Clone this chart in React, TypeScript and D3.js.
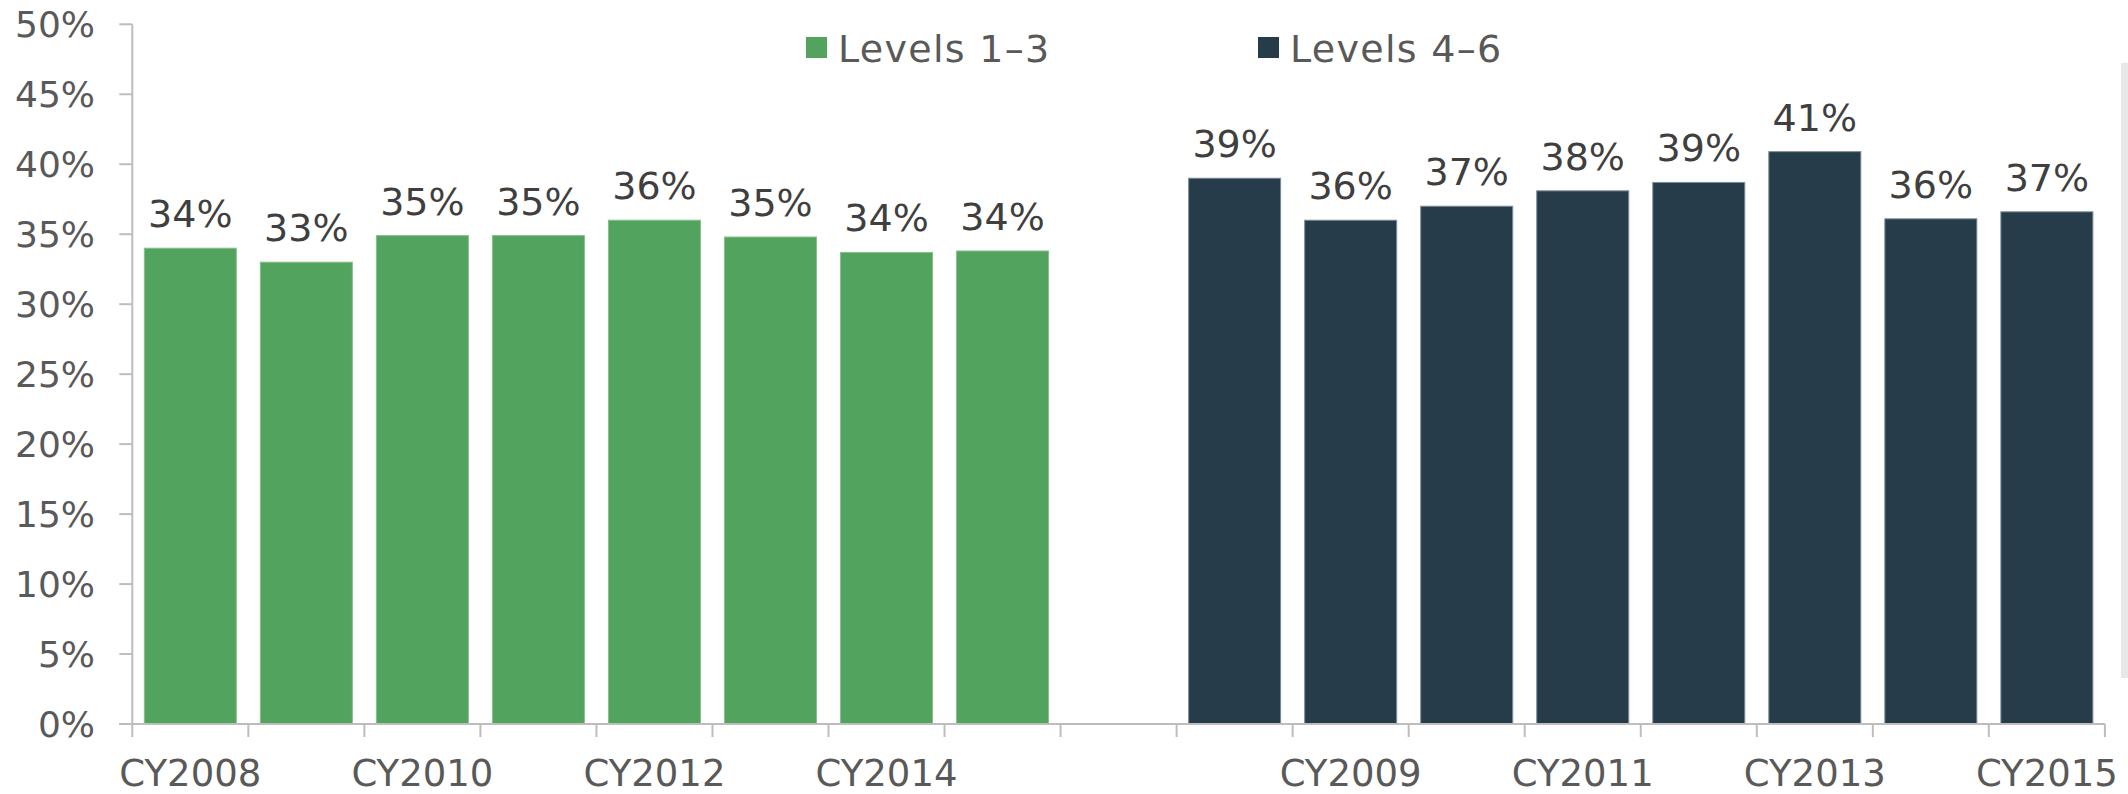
import React from "react";
import * as d3 from "d3";

const categories = ["CY2008", "CY2009", "CY2010", "CY2011", "CY2012", "CY2013", "CY2014", "CY2015"];
const levels13 = [34.0, 33.0, 34.9, 34.9, 36.0, 34.8, 33.7, 33.8];
const levels46 = [39.0, 36.0, 37.0, 38.1, 38.7, 40.9, 36.1, 36.6];
const seriesNames = ["Levels 1\u20133", "Levels 4\u20136"];
const seriesColors = ["#52a35e", "#263c4b"];
const yTicks = [0, 5, 10, 15, 20, 25, 30, 35, 40, 45, 50];

type Slot = { key: string; label: string; value: number | null; series: number };

const slots: Slot[] = [
  ...categories.map((c, i) => ({ key: "a" + c, label: c, value: levels13[i], series: 0 })),
  { key: "gap", label: "", value: null, series: -1 },
  ...categories.map((c, i) => ({ key: "b" + c, label: c, value: levels46[i], series: 1 })),
];

const W = 2128;
const H = 794;
const X0 = 132.3;
const X1 = 2104.9;
const Y0 = 724;
const Y1 = 24.3;
const FONT = "'DejaVu Sans', 'Liberation Sans', sans-serif";
const AXIS = "#bdbdbd";

export default function App() {
  const pad = 0.207;
  const x = d3
    .scaleBand<string>()
    .domain(slots.map((s) => s.key))
    .range([X0, X1])
    .paddingInner(pad)
    .paddingOuter(pad / 2);
  const y = d3.scaleLinear().domain([0, 50]).range([Y0, Y1]);
  const step = x.step();
  const boundaries = d3.range(slots.length + 1).map((i) => X0 + i * step);

  return (
    <svg
      width={W}
      height={H}
      style={{ position: "absolute", left: 0, top: 0, background: "#fff" }}
      fontFamily={FONT}
    >
      {/* right side panel strip */}
      <rect x={2121} y={63} width={7} height={615} fill="#e8e8e8" />

      {/* y axis */}
      <line x1={X0} x2={X0} y1={Y1} y2={Y0} stroke={AXIS} strokeWidth={2} />
      {yTicks.map((t) => (
        <g key={t}>
          <line x1={X0 - 13} x2={X0} y1={y(t)} y2={y(t)} stroke={AXIS} strokeWidth={2} />
          <text
            x={95}
            y={y(t)}
            dy="0.36em"
            textAnchor="end"
            fontSize={36}
            fill="#595959"
          >
            {t + "%"}
          </text>
        </g>
      ))}

      {/* bars */}
      {slots.map((s) =>
        s.value === null ? null : (
          <g key={s.key}>
            <rect
              x={x(s.key)!}
              y={y(s.value)}
              width={x.bandwidth()}
              height={Y0 - y(s.value)}
              fill={seriesColors[s.series]}
              stroke={s.series === 0 ? "#86bf8e" : "#7d8d98"}
              strokeWidth={1}
            />
            <text
              x={x(s.key)! + x.bandwidth() / 2}
              y={y(s.value) - 21}
              textAnchor="middle"
              fontSize={38}
              fill="#3f3f3f"
            >
              {Math.round(s.value) + "%"}
            </text>
          </g>
        )
      )}

      {/* x axis */}
      <line x1={X0 - 13} x2={X1} y1={Y0} y2={Y0} stroke={AXIS} strokeWidth={2} />
      {boundaries.map((b, i) => (
        <line key={i} x1={b} x2={b} y1={Y0} y2={Y0 + 13} stroke={AXIS} strokeWidth={2} />
      ))}
      {slots.map((s, i) =>
        i % 2 === 0 && s.label ? (
          <text
            key={"l" + s.key}
            x={x(s.key)! + x.bandwidth() / 2}
            y={786}
            textAnchor="middle"
            fontSize={37}
            fill="#595959"
          >
            {s.label}
          </text>
        ) : null
      )}

      {/* legend */}
      {seriesNames.map((n, i) => {
        const lx = i === 0 ? 806 : 1258;
        return (
          <g key={n}>
            <rect x={lx} y={37} width={21} height={21} fill={seriesColors[i]} />
            <text x={lx + 32} y={62} fontSize={38} letterSpacing={1.3} fill="#595959">
              {n}
            </text>
          </g>
        );
      })}
    </svg>
  );
}
